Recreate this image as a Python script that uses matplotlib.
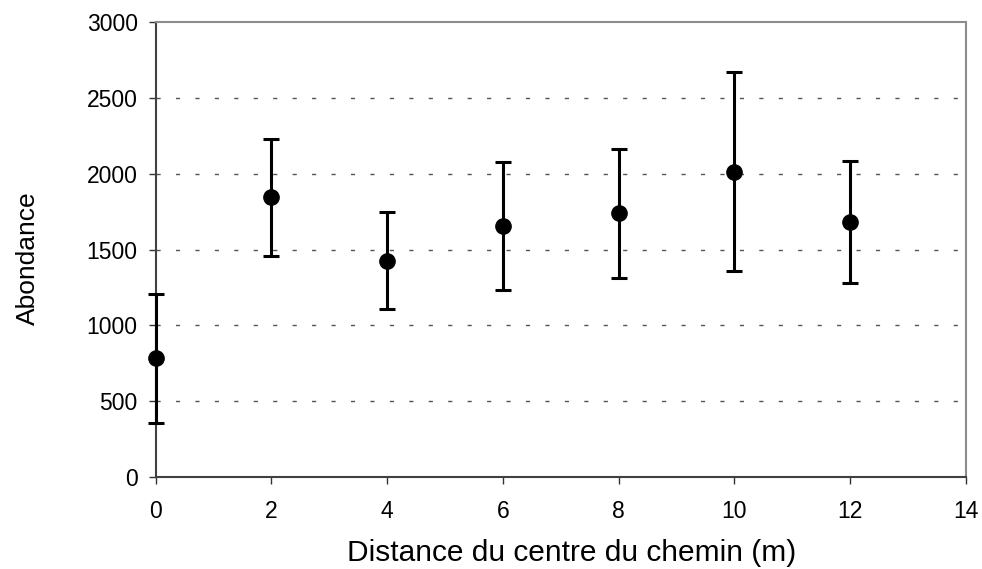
import numpy as np
import matplotlib.pyplot as plt

# distance from the path centre (m) and mean abundance with error bar half-widths
distance = [0, 2, 4, 6, 8, 10, 12]
abundance = [782, 1845, 1426, 1653, 1739, 2014, 1683]
error = [427, 387, 322, 423, 425, 657, 402]

y_ticks = [0, 500, 1000, 1500, 2000, 2500, 3000]
x_ticks = [0, 2, 4, 6, 8, 10, 12, 14]

plt.rcParams['font.family'] = ['Liberation Sans', 'DejaVu Sans']

fig = plt.figure(figsize=(9.82, 5.69), dpi=100)
ax = fig.add_axes([0.1586, 0.1622, 0.8248, 0.7986])

# dotted horizontal gridlines like the spreadsheet chart
for y in y_ticks[1:-1]:
    ax.axhline(y, color='#555555', lw=1.0, linestyle=(0, (3, 11)), zorder=1)

ax.errorbar(distance, abundance, yerr=error, fmt='o', color='black',
            markersize=11, elinewidth=2.2, capsize=5.5, capthick=2.2,
            clip_on=False, zorder=3)

ax.set_xlim(0, 14)
ax.set_ylim(0, 3000)
ax.set_xticks(x_ticks)
ax.set_yticks(y_ticks)
ax.tick_params(direction='out', length=5, width=1, labelsize=16.5, color='#333333')
ax.tick_params(axis='y', pad=8)
ax.tick_params(axis='x', pad=12)

ax.spines['left'].set_color('#404040')
ax.spines['bottom'].set_color('#404040')
ax.spines['top'].set_color('#8c8c8c')
ax.spines['right'].set_color('#8c8c8c')
for s in ax.spines.values():
    s.set_linewidth(1.5)

ax.set_xlabel("Distance du centre du chemin (m)", fontsize=21.5)
ax.set_ylabel("Abondance", fontsize=19)
ax.xaxis.set_label_coords(0.513, -0.136)
ax.yaxis.set_label_coords(-0.143, 0.48)

fig.savefig("out.png", dpi=100)
